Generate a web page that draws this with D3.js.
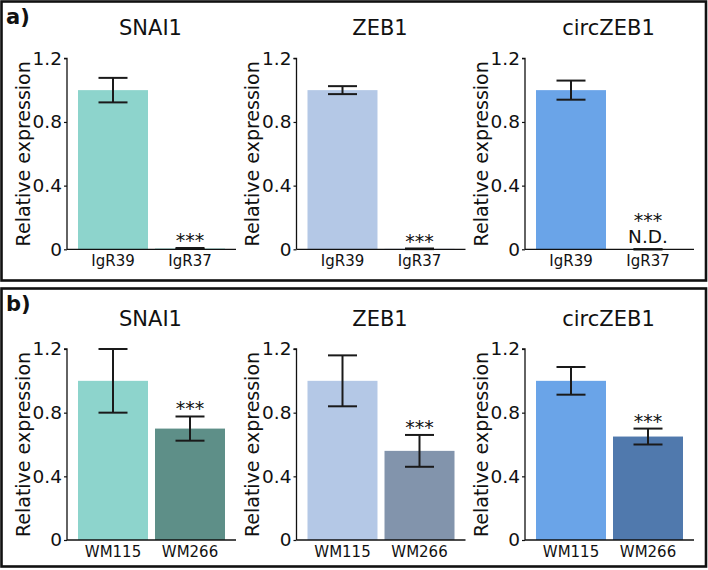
<!DOCTYPE html>
<html>
<head>
<meta charset="utf-8">
<script src="https://cdn.jsdelivr.net/npm/d3@7"></script>
<style>
html,body{margin:0;padding:0;background:#fff;}
text{font-family:"DejaVu Sans",sans-serif;fill:#111;}
</style>
</head>
<body>
<svg id="chart" width="708" height="570"></svg>
<script>
// ---- data ----
const genes = ["SNAI1", "ZEB1", "circZEB1"];
const catsA = ["IgR39", "IgR37"];
const catsB = ["WM115", "WM266"];
const valuesA = [[1.0, 0.005], [1.0, 0.003], [1.0, 0.0]];
const errorsA = [[0.077, 0.003], [0.025, 0.002], [0.06, 0.0]];
const valuesB = [[1.0, 0.70], [1.0, 0.56], [1.0, 0.65]];
const errorsB = [[0.20, 0.076], [0.16, 0.10], [0.087, 0.05]];
const starsA = [["", "***"], ["", "***"], ["", "***"]];
const notDetectedA = [[false, false], [false, false], [false, true]];
const starsB = [["", "***"], ["", "***"], ["", "***"]];
const lightColors = ["#8dd4cc", "#b4c8e6", "#6aa4e8"];
const darkColorsB = ["#5e8f88", "#8294ac", "#5079ad"];
const yTicks = [0, 0.4, 0.8, 1.2];
const panelLabels = ["a)", "b)"];

const svg = d3.select("#chart");

const panels = [
  {label: panelLabels[0], top: 1.5, h: 279, yTop: 58.3, yBot: 249.3, cats: catsA, values: valuesA, errors: errorsA, stars: starsA, nd: notDetectedA, colors: [lightColors, lightColors]},
  {label: panelLabels[1], top: 288.5, h: 278, yTop: 349, yBot: 540, cats: catsB, values: valuesB, errors: errorsB, stars: starsB, nd: null, colors: [lightColors, darkColorsB]}
];
const axLeft = [67, 296.5, 525];
const axWidth = 169;

panels.forEach((p, pi) => {
  svg.append("rect").attr("x", 1.5).attr("y", p.top).attr("width", 704.5).attr("height", p.h)
    .attr("fill", "none").attr("stroke", "#111").attr("stroke-width", 2.6);
  svg.append("text").attr("x", 6).attr("y", p.top + 22.5).text(p.label)
    .style("font-size", "21px").style("font-weight", "bold");

  genes.forEach((g, gi) => {
    const x0 = axLeft[gi];
    const y = d3.scaleLinear().domain([0, 1.2]).range([p.yBot, p.yTop]);
    const x = d3.scaleBand().domain(p.cats).range([x0 + 11, x0 + 158]).paddingInner(0.091).paddingOuter(0);
    const gEl = svg.append("g");

    // bars
    p.cats.forEach((c, ci) => {
      const v = p.values[gi][ci];
      gEl.append("rect").attr("x", x(c)).attr("width", x.bandwidth())
        .attr("y", y(v)).attr("height", y(0) - y(v))
        .attr("fill", p.colors[ci][gi]);
    });

    // error bars + annotations
    p.cats.forEach((c, ci) => {
      const v = p.values[gi][ci], e = p.errors[gi][ci];
      const cx = x(c) + x.bandwidth() / 2;
      const gEr = gEl.append("g").attr("stroke", "#1a1a1a").attr("stroke-width", 2);
      gEr.append("line").attr("x1", cx).attr("x2", cx).attr("y1", y(v + e)).attr("y2", y(Math.max(0, v - e)));
      [v + e, Math.max(0, v - e)].forEach(t => {
        gEr.append("line").attr("x1", cx - 14.5).attr("x2", cx + 14.5).attr("y1", y(t)).attr("y2", y(t));
      });
      const isND = p.nd && p.nd[gi][ci];
      if (isND) {
        const t = gEl.append("text").attr("x", cx).attr("y", y(v + e) - 22).attr("text-anchor", "middle");
        t.append("tspan").attr("x", cx).style("font-size", "19px").text(p.stars[gi][ci]);
        t.append("tspan").attr("x", cx).attr("dy", 15.5).style("font-size", "18.5px").text("N.D.");
      } else if (p.stars[gi][ci]) {
        gEl.append("text").attr("x", cx).attr("y", y(v + e) - 1).attr("text-anchor", "middle")
          .style("font-size", "19px").text(p.stars[gi][ci]);
      }
    });

    // y axis
    const yAxis = d3.axisLeft(y).tickValues(yTicks).tickSize(3).tickPadding(2)
      .tickFormat(d => d === 0 ? "0" : d3.format(".1f")(d));
    const ya = gEl.append("g").attr("transform", `translate(${x0},0)`).call(yAxis);
    ya.select(".domain").attr("stroke", "#111").attr("stroke-width", 1.3).attr("d", `M-3,${p.yTop}H0V${p.yBot}`);
    ya.selectAll(".tick line").attr("stroke", "#111").attr("stroke-width", 1.2);
    ya.selectAll(".tick text").style("font-size", "18.5px").attr("font-family", null).attr("fill", "#111");

    // x axis
    const xAxis = d3.axisBottom(x).tickSize(0).tickPadding(6);
    const xa = gEl.append("g").attr("transform", `translate(0,${p.yBot})`).call(xAxis);
    xa.select(".domain").attr("stroke", "#111").attr("stroke-width", 1.3).attr("d", `M${x0},0H${x0 + axWidth}`);
    xa.selectAll(".tick text").style("font-size", "15px").attr("font-family", null).attr("fill", "#111").attr("dy", "0.71em");

    // title
    gEl.append("text").attr("x", x0 + axWidth / 2 - 1).attr("y", p.yTop - 23).attr("text-anchor", "middle")
      .style("font-size", "21px").text(g);

    // y label
    gEl.append("text").attr("transform", `translate(${x0 - 37.5},${(p.yTop + p.yBot) / 2}) rotate(-90)`)
      .attr("text-anchor", "middle").style("font-size", "19px").text("Relative expression");
  });
});
</script>
</body>
</html>
